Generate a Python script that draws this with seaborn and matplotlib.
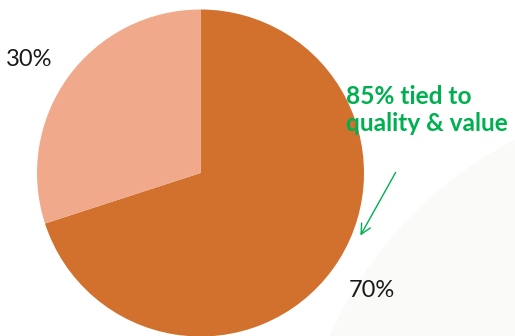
import numpy as np
import seaborn as sns
from matplotlib import pyplot as plt
from matplotlib.patches import Circle

# share of responses
shares = [70, 30]
slice_colors = ["#D2702E", "#F0A98A"]
pct_labels = ["70%", "30%"]
note = "85% tied to\nquality & value"

sns.set_theme(style="white")
plt.rcParams['font.family'] = ['Lato', 'DejaVu Sans']

W, H = 515, 336
cx, cy, r = 200.5, H - 173, 163.5
fig = plt.figure(figsize=(W / 100, H / 100), dpi=100)
ax = fig.add_axes([0, 0, 1, 1])

# faint background swoosh (lower right)
ax.add_patch(Circle((700, H - 500), 405, color="#FAFAF8", lw=0, zorder=0))

wedges, texts = ax.pie(
    shares, colors=slice_colors, startangle=90, counterclock=False,
    center=(cx, cy), radius=r, wedgeprops=dict(linewidth=0))

# percentage labels just outside each slice
for w, lab in zip(wedges, pct_labels):
    ang = np.deg2rad((w.theta1 + w.theta2) / 2 + 2)
    ax.text(cx + 1.265 * r * np.cos(ang), cy + 1.265 * r * np.sin(ang) - 2, lab,
            ha='center', va='center', fontsize=17, color="#1a1a1a")

ax.text(346, H - 85, note, ha='left', va='top', fontsize=17.6, fontweight='bold',
        color="#00B050", linespacing=1.2)
ax.annotate("", xy=(359, H - 238), xytext=(397, H - 170),
            arrowprops=dict(arrowstyle="->", color="#00B050", lw=1,
                            mutation_scale=18))

ax.set_xlim(0, W)
ax.set_ylim(0, H)
ax.set_aspect('auto')
ax.axis('off')

plt.savefig("out.png", dpi=100)
